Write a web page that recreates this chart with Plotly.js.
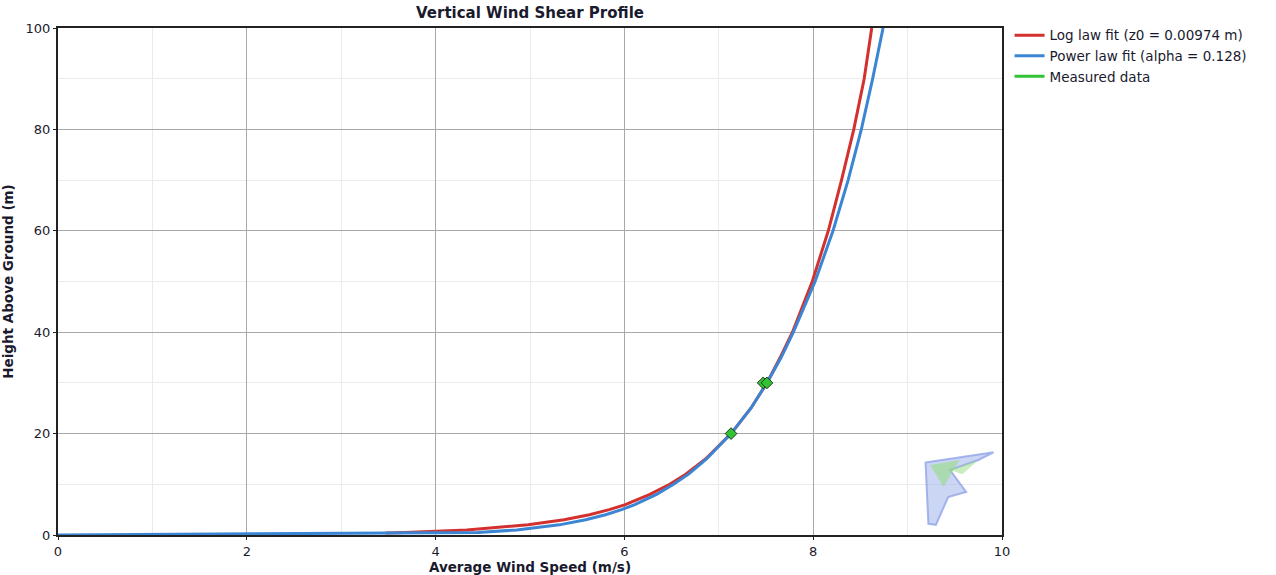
<!DOCTYPE html>
<html>
<head>
<meta charset="utf-8">
<script src="https://cdn.plot.ly/plotly-3.0.1.min.js"></script>
<style>
  html, body { margin: 0; padding: 0; background: #ffffff; }
  #chart { width: 1276px; height: 575px; }
</style>
</head>
<body>
<div id="chart"></div>
<script>
// Log law fit (z0 = 0.00974 m): heights (m) and wind speeds (m/s)
const logHeights = [0.4, 0.5, 1, 2, 3, 4, 5, 6, 8, 10, 12, 15, 20, 25, 30, 35, 40, 50, 60, 70, 80, 90, 100];
const logSpeeds  = [3.47, 3.68, 4.33, 4.98, 5.36, 5.63, 5.84, 6.01, 6.27, 6.48, 6.65, 6.86, 7.13, 7.34, 7.51, 7.65, 7.78, 7.99, 8.16, 8.30, 8.43, 8.54, 8.62];

// Power law fit (alpha = 0.128)
const powHeights = [0, 0.5, 1, 2, 3, 4, 5, 6, 8, 10, 12, 15, 20, 25, 30, 35, 40, 50, 60, 70, 80, 90, 100];
const powSpeeds  = [0, 4.45, 4.86, 5.31, 5.59, 5.80, 5.97, 6.11, 6.34, 6.52, 6.68, 6.87, 7.13, 7.34, 7.51, 7.66, 7.79, 8.02, 8.21, 8.37, 8.51, 8.63, 8.74];

// Measured data
const measHeights = [20, 30, 30];
const measSpeeds  = [7.13, 7.47, 7.51];

const seriesNames = ['Log law fit (z0 = 0.00974 m)', 'Power law fit (alpha = 0.128)', 'Measured data'];
const xTickVals = [0, 2, 4, 6, 8, 10];
const yTickVals = [0, 20, 40, 60, 80, 100];

const RED = '#d2312f', BLUE = '#3a86d4', GREEN = '#33c233';
const FONT = 'DejaVu Sans, Verdana, sans-serif';
const TXT = '#1a1a2e';

const traces = [
  { x: logSpeeds, y: logHeights, name: seriesNames[0], mode: 'lines',
    line: { color: RED, width: 3 } },
  { x: powSpeeds, y: powHeights, name: seriesNames[1], mode: 'lines',
    line: { color: BLUE, width: 3 } },
  { x: measSpeeds, y: measHeights, name: seriesNames[2], mode: 'markers', showlegend: false,
    marker: { symbol: 'diamond', size: 9, color: GREEN, line: { color: '#1f3a1f', width: 1 } } },
  { x: [null], y: [null], name: seriesNames[2], mode: 'lines',
    line: { color: GREEN, width: 3 } }
];

function axisCommon() {
  return {
    showline: true, mirror: true, linecolor: '#222222', linewidth: 2,
    showgrid: true, gridcolor: '#a8a8a8', gridwidth: 1,
    zeroline: false, ticks: 'outside', ticklen: 3, tickcolor: '#222222',
    tickfont: { family: FONT, size: 13, color: TXT },
    fixedrange: true
  };
}

const xaxis = Object.assign(axisCommon(), {
  range: [0, 10], tickvals: xTickVals, ticktext: xTickVals.map(String),
  minor: { dtick: 1, showgrid: true, gridcolor: '#ebebeb', gridwidth: 1, ticks: '' },
  title: { text: '<b>Average Wind Speed (m/s)</b>', font: { family: FONT, size: 13.5, color: TXT }, standoff: 0 }
});
const yaxis = Object.assign(axisCommon(), {
  range: [0, 100], tickvals: yTickVals, ticktext: yTickVals.map(String),
  minor: { dtick: 10, showgrid: true, gridcolor: '#ebebeb', gridwidth: 1, ticks: '' },
  title: { text: '<b>Height Above Ground (m)</b>', font: { family: FONT, size: 13.5, color: TXT }, standoff: 10 }
});

// small decorative logo in the lower-right corner of the plot (paper coordinates)
const logoShapes = [
  { type: 'path', xref: 'paper', yref: 'paper', layer: 'above',
    path: 'M 0.919 0.143 L 0.991 0.163 L 0.975 0.148 L 0.945 0.128 L 0.962 0.085 L 0.943 0.075 L 0.930 0.02 L 0.922 0.022 Z',
    fillcolor: 'rgba(160,178,235,0.55)', line: { color: 'rgba(140,160,230,0.75)', width: 2 } },
  { type: 'path', xref: 'paper', yref: 'paper', layer: 'above',
    path: 'M 0.924 0.138 L 0.955 0.148 L 0.938 0.095 Z',
    fillcolor: 'rgba(150,220,130,0.6)', line: { width: 0 } },
  { type: 'path', xref: 'paper', yref: 'paper', layer: 'above',
    path: 'M 0.945 0.128 L 0.975 0.148 L 0.958 0.12 Z',
    fillcolor: 'rgba(150,220,130,0.5)', line: { width: 0 } }
];

const layout = {
  width: 1276, height: 575,
  margin: { l: 58, r: 274, t: 28, b: 40 },
  paper_bgcolor: '#ffffff', plot_bgcolor: '#ffffff',
  title: { text: '<b>Vertical Wind Shear Profile</b>', font: { family: FONT, size: 15, color: TXT },
           xref: 'paper', x: 0.5, xanchor: 'center', yref: 'container', y: 0.987, yanchor: 'top' },
  xaxis: xaxis, yaxis: yaxis,
  showlegend: true,
  legend: { x: 1.008, xanchor: 'left', y: 1.016, yanchor: 'top', bgcolor: 'rgba(0,0,0,0)',
            font: { family: FONT, size: 13.5, color: TXT }, tracegroupgap: 0, itemwidth: 30 },
  shapes: logoShapes
};

Plotly.newPlot('chart', traces, layout, { displayModeBar: false, staticPlot: true });
</script>
</body>
</html>
